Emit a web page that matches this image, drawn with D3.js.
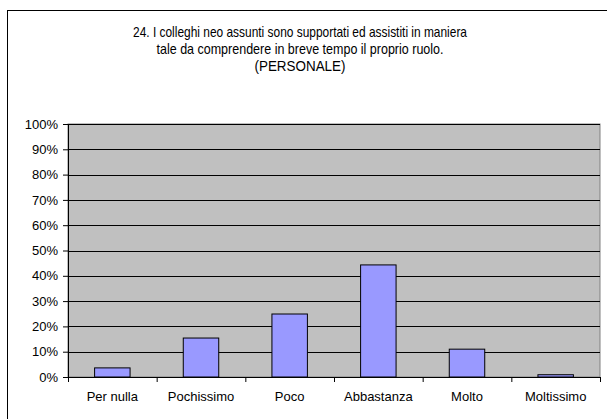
<!DOCTYPE html>
<html>
  <head>
    <script src="https://d3js.org/d3.v7.min.js"></script>
  </head>
  <body>
    <svg id="viz" width="607" height="419"></svg>
  </body>
  <script>
    const categories = ["Per nulla", "Pochissimo", "Poco", "Abbastanza", "Molto", "Moltissimo"];
    const values = [0.036, 0.154, 0.249, 0.443, 0.11, 0.009];
    const yTicks = [0, 0.1, 0.2, 0.3, 0.4, 0.5, 0.6, 0.7, 0.8, 0.9, 1];
    const titleLines = [
      "24. I colleghi neo assunti sono supportati ed assistiti in maniera",
      "tale da comprendere in breve tempo il proprio ruolo.",
      "(PERSONALE)",
    ];
    const titleWidths = [334, 287, 91];

    function draw() {
      const svg = d3.select("svg#viz");
      const left = 68, right = 600, top = 124, bottom = 377;
      const font = "Liberation Sans, Arial, sans-serif";

      svg.append("rect")
        .attr("width", 607).attr("height", 419).attr("fill", "white");

      // outer chart border (runs off the right and bottom)
      svg.append("rect")
        .attr("x", 7.5).attr("y", 10.5)
        .attr("width", 620).attr("height", 430)
        .attr("fill", "none").attr("stroke", "black");

      // the original title renders narrower than Liberation Sans, so squeeze it
      svg.append("g")
        .selectAll("text")
        .data(titleLines)
        .join("text")
        .attr("x", 300)
        .attr("y", (d, i) => 37 + i * 16.8)
        .attr("text-anchor", "middle")
        .attr("font-family", font)
        .attr("font-size", 14.5)
        .attr("textLength", (d, i) => titleWidths[i])
        .attr("lengthAdjust", "spacingAndGlyphs")
        .text((d) => d);

      const x = d3.scaleBand().domain(categories).range([left, right]);
      const y = d3.scaleLinear().domain([0, 1]).range([bottom, top]);

      svg.append("rect")
        .attr("x", left).attr("y", top)
        .attr("width", right - left).attr("height", bottom - top)
        .attr("fill", "#c0c0c0").attr("stroke", "#808080");

      svg.append("g")
        .selectAll("line")
        .data(yTicks.slice(1))
        .join("line")
        .attr("x1", left).attr("x2", right)
        .attr("y1", (d) => Math.round(y(d)) + 0.5)
        .attr("y2", (d) => Math.round(y(d)) + 0.5)
        .attr("stroke", "black");

      const bw = x.bandwidth() * 0.4;
      svg.append("g")
        .selectAll("rect")
        .data(values)
        .join("rect")
        .attr("x", (d, i) => x(categories[i]) + (x.bandwidth() - bw) / 2)
        .attr("y", (d) => y(d))
        .attr("width", bw)
        .attr("height", (d) => bottom - y(d))
        .attr("fill", "#9999ff")
        .attr("stroke", "black");

      const yAxis = svg.append("g")
        .attr("transform", `translate(${left},0)`)
        .call(d3.axisLeft(y).tickValues(yTicks).tickFormat(d3.format(".0%")).tickSize(5).tickPadding(5));
      yAxis.selectAll("text").attr("font-size", 13);

      const xAxis = svg.append("g")
        .attr("transform", `translate(0,${bottom})`)
        .call(d3.axisBottom(x).tickSize(0).tickPadding(15));
      xAxis.selectAll("text").attr("font-size", 13);

      // category boundary ticks
      svg.append("g")
        .selectAll("line")
        .data(d3.range(categories.length + 1))
        .join("line")
        .attr("x1", (i) => left + i * x.step() + 0.5)
        .attr("x2", (i) => left + i * x.step() + 0.5)
        .attr("y1", bottom).attr("y2", bottom + 5)
        .attr("stroke", "black");

      [yAxis, xAxis].forEach((g) => {
        g.attr("font-family", font);
        g.selectAll("text").attr("fill", "black");
        g.selectAll("path, line").attr("stroke", "black");
      });
    }

    draw();
  </script>
  <style>
    body {
      margin: 0px;
    }
  </style>
</html>
